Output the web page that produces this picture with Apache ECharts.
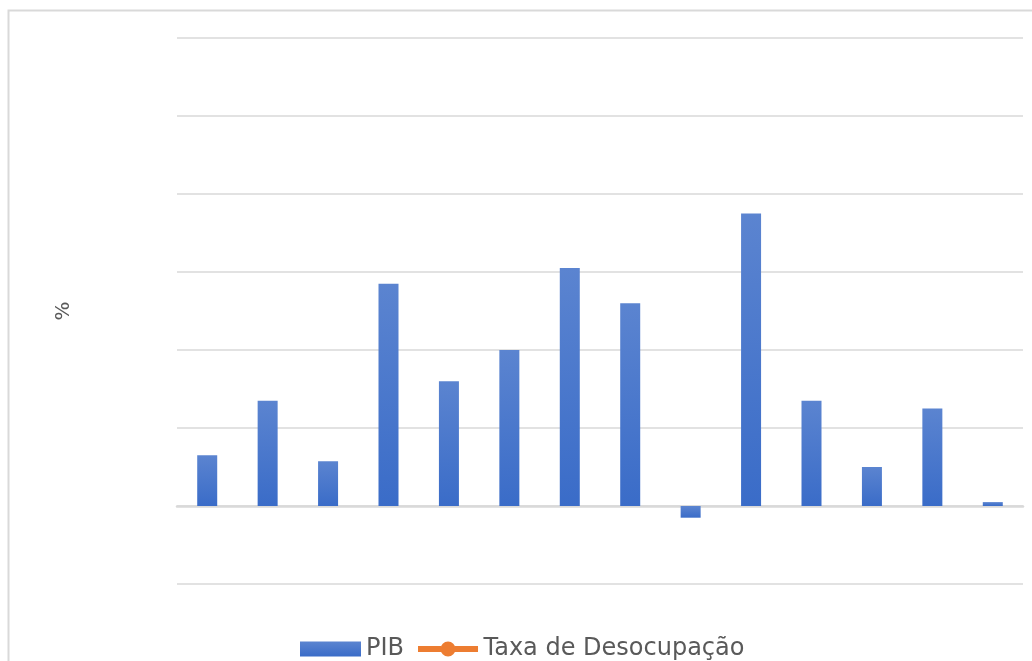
<!DOCTYPE html>
<html>
<head>
<meta charset="utf-8">
<script src="https://cdn.jsdelivr.net/npm/echarts@6/dist/echarts.min.js"></script>
<style>
  html, body { margin: 0; padding: 0; background: #fff; }
  #chart { width: 1032px; height: 661px; }
</style>
</head>
<body>
<div id="chart"></div>
<script>
// anos (rótulos não aparecem no gráfico)
var anos = ["2001", "2002", "2003", "2004", "2005", "2006", "2007", "2008", "2009", "2010", "2011", "2012", "2013", "2014"];
// PIB, variação anual %
var pib = [1.3, 2.7, 1.15, 5.7, 3.2, 4.0, 6.1, 5.2, -0.3, 7.5, 2.7, 1.0, 2.5, 0.1];
// taxa de desocupação: nenhum ponto visível
var desocupacao = [];

// ícone da legenda: linha com marcador circular no meio
var iconeLinha = "path://M0,4.5h23v6h-23z M37,4.5h23v6h-23z " +
  "M37.5,7.5A7.5,7.5 0 1,1 22.5,7.5A7.5,7.5 0 1,1 37.5,7.5z";

var myChart = echarts.init(document.getElementById("chart"));

myChart.setOption({
  animation: false,
  textStyle: { fontFamily: "DejaVu Sans" },
  graphic: [
    {
      type: "rect",
      shape: { x: 8.5, y: 10.5, width: 1040, height: 680 },
      style: { fill: null, stroke: "#d9d9d9", lineWidth: 2 },
      silent: true
    }
  ],
  grid: { left: 177, right: 9, top: 38, bottom: 77 },
  legend: {
    left: 295,
    top: 632,
    itemWidth: 61,
    itemHeight: 15,
    itemGap: 14,
    textStyle: { fontSize: 24, color: "#595959" },
    data: [
      { name: "PIB", icon: "rect" },
      { name: "Taxa de Desocupação", icon: iconeLinha, itemStyle: { color: "#ed7d31" } }
    ]
  },
  xAxis: {
    type: "category",
    data: anos,
    axisLine: { lineStyle: { color: "#d9d9d9", width: 2.5 } },
    axisTick: { show: false },
    axisLabel: { show: false }
  },
  yAxis: [
    {
      type: "value",
      min: -2,
      max: 12,
      interval: 2,
      name: "%",
      nameLocation: "middle",
      nameGap: 103,
      nameRotate: 90,
      nameTextStyle: { fontSize: 20, color: "#595959" },
      axisLabel: { show: false },
      axisLine: { show: false },
      axisTick: { show: false },
      splitLine: { lineStyle: { color: "#d9d9d9", width: 1.5 } }
    },
    {
      type: "value",
      show: false,
      splitLine: { show: false }
    }
  ],
  series: [
    {
      name: "PIB",
      type: "bar",
      data: pib,
      barWidth: 20,
      itemStyle: {
        color: new echarts.graphic.LinearGradient(0, 0, 0, 1, [
          { offset: 0, color: "#5b84d0" },
          { offset: 1, color: "#3a6cc8" }
        ])
      }
    },
    {
      name: "Taxa de Desocupação",
      type: "line",
      yAxisIndex: 1,
      data: desocupacao,
      symbol: "circle",
      symbolSize: 14,
      itemStyle: { color: "#ed7d31" },
      lineStyle: { color: "#ed7d31", width: 6 }
    }
  ]
});
</script>
</body>
</html>
